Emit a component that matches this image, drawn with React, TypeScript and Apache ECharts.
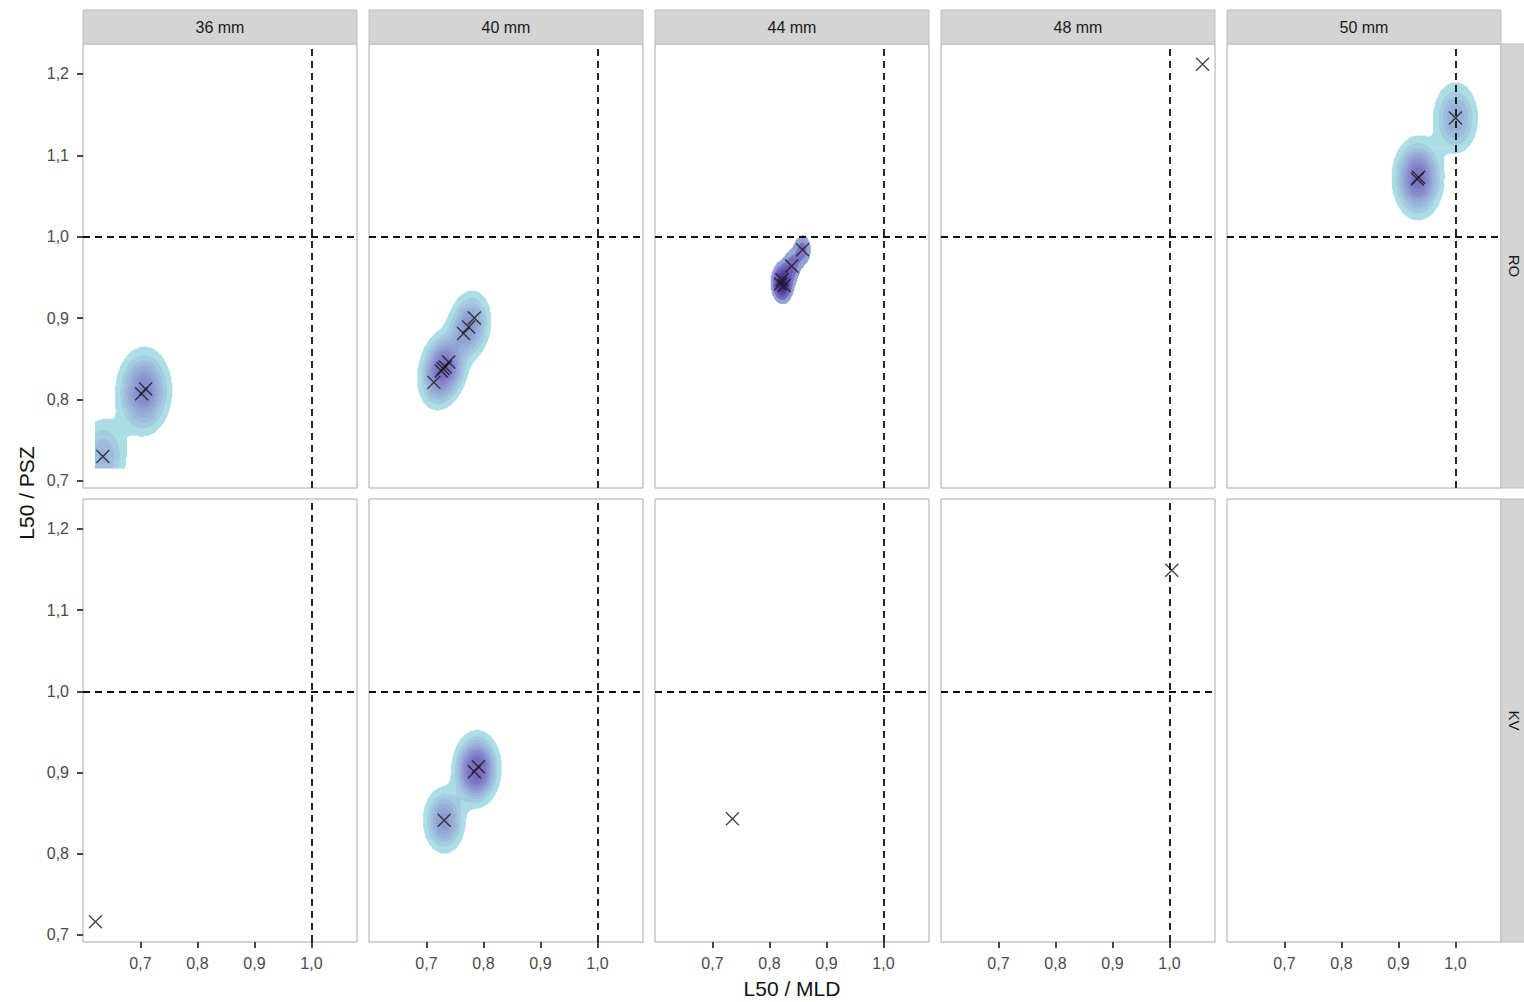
import React, { useEffect, useRef } from "react";
import * as echarts from "echarts";

// ---- facets ----
const columns = ["36 mm", "40 mm", "44 mm", "48 mm", "50 mm"];
const rowsLab = ["RO", "KV"];

// ---- ticks ----
const xTicks = [0.7, 0.8, 0.9, 1.0];
const yTicks = [0.7, 0.8, 0.9, 1.0, 1.1, 1.2];
const refX = 1.0;
const refY = 1.0;

// ---- data: L50 / MLD (x) and L50 / PSZ (y) per panel ----
const ro36X = [0.634, 0.702, 0.709];
const ro36Y = [0.730, 0.807, 0.813];
const ro40X = [0.713, 0.726, 0.729, 0.733, 0.739, 0.765, 0.774, 0.784];
const ro40Y = [0.821, 0.835, 0.838, 0.840, 0.846, 0.881, 0.889, 0.900];
const ro44X = [0.819, 0.822, 0.826, 0.839, 0.858];
const ro44Y = [0.942, 0.947, 0.940, 0.964, 0.984];
const ro48X = [1.058];
const ro48Y = [1.212];
const ro50X = [0.933, 0.935, 1.0];
const ro50Y = [1.071, 1.073, 1.146];
const kv36X = [0.621];
const kv36Y = [0.716];
const kv40X = [0.731, 0.784, 0.791];
const kv40Y = [0.841, 0.901, 0.907];
const kv44X = [0.735];
const kv44Y = [0.843];
const kv48X = [1.004];
const kv48Y = [1.149];
const kv50X: number[] = [];
const kv50Y: number[] = [];

const panelX = [
  [ro36X, ro40X, ro44X, ro48X, ro50X],
  [kv36X, kv40X, kv44X, kv48X, kv50X],
];
const panelY = [
  [ro36Y, ro40Y, ro44Y, ro48Y, ro50Y],
  [kv36Y, kv40Y, kv44Y, kv48Y, kv50Y],
];

// ---- layout ----
const GRID_LEFT = [83, 369, 655, 941, 1227];
const GRID_TOP = [44, 499];
const GRID_W = 274;
const GRID_H = [444, 443];
const FONT = "'Liberation Sans', Arial, sans-serif";

// ---- density helpers (MASS::kde2d with bandwidth.nrd, as ggplot does) ----
function quantile7(s: number[], p: number) {
  const h = (s.length - 1) * p;
  const lo = Math.floor(h);
  const hi = Math.min(lo + 1, s.length - 1);
  return s[lo] + (h - lo) * (s[hi] - s[lo]);
}
function bwNrd(v: number[]) {
  const s = [...v].sort((a, b) => a - b);
  const n = v.length;
  const mean = v.reduce((a, b) => a + b, 0) / n;
  const sd = Math.sqrt(v.reduce((a, b) => a + (b - mean) ** 2, 0) / (n - 1));
  const iqr = (quantile7(s, 0.75) - quantile7(s, 0.25)) / 1.34;
  return 4 * 1.06 * Math.min(sd, iqr) * Math.pow(n, -0.2);
}
function prettyUnit(max: number, n = 10) {
  const cell = max / n;
  const base = Math.pow(10, Math.floor(Math.log10(cell)));
  const h = 1.5;
  const h5 = 0.5 + 1.5 * h;
  let unit = base;
  if (2 * base - cell < h * (cell - unit)) {
    unit = 2 * base;
    if (5 * base - cell < h5 * (cell - unit)) {
      unit = 5 * base;
      if (10 * base - cell < h * (cell - unit)) unit = 10 * base;
    }
  }
  return unit;
}

const RAMP = [
  [0, [171, 221, 229]],
  [0.3, [124, 114, 197]],
  [1, [50, 18, 125]],
] as [number, number[]][];

export default function App() {
  const ref = useRef<HTMLDivElement>(null);
  useEffect(() => {
    document.body.style.margin = "0";
    if (!ref.current) return;
    const chart = echarts.init(ref.current, undefined, { renderer: "svg" });

    const allX = panelX.flat(2);
    const allY = panelY.flat(2);
    const dxMin = Math.min(...allX), dxMax = Math.max(...allX);
    const dyMin = Math.min(...allY), dyMax = Math.max(...allY);
    const xr = dxMax - dxMin, yr = dyMax - dyMin;
    const xMin = dxMin - 0.05 * xr, xMax = dxMax + 0.05 * xr;
    const yMin = dyMin - 0.05 * yr, yMax = dyMax + 0.05 * yr;

    const NX = 260, NY = 420;
    const gx = Array.from({ length: NX }, (_, i) => dxMin + (i * xr) / (NX - 1));
    const gy = Array.from({ length: NY }, (_, j) => dyMin + (j * yr) / (NY - 1));
    const cdx = xr / (NX - 1), cdy = yr / (NY - 1);

    const runsAll: number[][][] = [];
    let minLevel = Infinity, maxLevel = 0;
    for (let r = 0; r < 2; r++) {
      for (let c = 0; c < 5; c++) {
        const X = panelX[r][c], Y = panelY[r][c];
        const runs: number[][] = [];
        if (X.length >= 2) {
          const sx = bwNrd(X) / 4, sy = bwNrd(Y) / 4;
          const n = X.length;
          const ax = X.map((x) => gx.map((g) => Math.exp(-0.5 * ((g - x) / sx) ** 2)));
          const ay = Y.map((y) => gy.map((g) => Math.exp(-0.5 * ((g - y) / sy) ** 2)));
          const norm = 1 / (n * 2 * Math.PI * sx * sy);
          const z: number[][] = [];
          let zmax = 0;
          for (let j = 0; j < NY; j++) {
            const row: number[] = new Array(NX).fill(0);
            for (let k = 0; k < n; k++) {
              const ayk = ay[k][j];
              if (ayk < 1e-9) continue;
              const axk = ax[k];
              for (let i = 0; i < NX; i++) row[i] += axk[i] * ayk;
            }
            for (let i = 0; i < NX; i++) {
              row[i] *= norm;
              if (row[i] > zmax) zmax = row[i];
            }
            z.push(row);
          }
          const unit = prettyUnit(zmax);
          for (let j = 0; j < NY; j++) {
            let start = -1, cur = 0;
            for (let i = 0; i <= NX; i++) {
              const L = i < NX ? Math.floor(z[j][i] / unit) : 0;
              if (L !== cur) {
                if (cur >= 1) {
                  const lv = cur * unit;
                  runs.push([gx[start] - cdx / 2, gx[i - 1] + cdx / 2, gy[j], lv]);
                  if (lv < minLevel) minLevel = lv;
                  if (lv > maxLevel) maxLevel = lv;
                }
                cur = L;
                start = i;
              }
            }
          }
        }
        runsAll.push(runs);
      }
    }

    const colorOf = (lv: number) => {
      let t = (lv - minLevel) / (maxLevel - minLevel);
      t = Math.pow(Math.max(0, Math.min(1, t)), 0.85);
      let k = 0;
      while (k < RAMP.length - 2 && t > RAMP[k + 1][0]) k++;
      const [t0, c0] = RAMP[k];
      const [t1, c1] = RAMP[k + 1];
      const u = (t - t0) / (t1 - t0);
      const c = c0.map((v, m) => Math.round(v + (c1[m] - v) * u));
      return `rgb(${c[0]},${c[1]},${c[2]})`;
    };

    const grids: any[] = [];
    const xAxes: any[] = [];
    const yAxes: any[] = [];
    const series: any[] = [];
    const fmt = (v: number) => v.toFixed(1).replace(".", ",");
    const symbolX = "path://M0,0L10,10M10,0L0,10";

    for (let r = 0; r < 2; r++) {
      for (let c = 0; c < 5; c++) {
        const idx = r * 5 + c;
        grids.push({
          left: GRID_LEFT[c],
          top: GRID_TOP[r],
          width: GRID_W,
          height: GRID_H[r],
          show: true,
          backgroundColor: "#ffffff",
          borderColor: "#a8a8a8",
          borderWidth: 1,
        });
        const showX = r === 1;
        const showY = c === 0;
        xAxes.push({
          gridIndex: idx,
          type: "value",
          min: xMin,
          max: xMax,
          axisLine: { show: false },
          splitLine: { show: false },
          axisTick: {
            show: showX,
            customValues: xTicks,
            length: 6,
            lineStyle: { color: "#333", width: 1.8 },
          },
          axisLabel: {
            show: showX,
            customValues: xTicks,
            formatter: fmt,
            color: "#4a4a4a",
            fontSize: 16,
            fontFamily: FONT,
            margin: 13,
          },
        });
        yAxes.push({
          gridIndex: idx,
          type: "value",
          min: yMin,
          max: yMax,
          axisLine: { show: false },
          splitLine: { show: false },
          axisTick: {
            show: showY,
            customValues: yTicks,
            length: 6,
            lineStyle: { color: "#333", width: 1.8 },
          },
          axisLabel: {
            show: showY,
            customValues: yTicks,
            formatter: fmt,
            color: "#4a4a4a",
            fontSize: 16,
            fontFamily: FONT,
            margin: 14,
          },
        });
        const runs = runsAll[idx];
        if (runs.length) {
          series.push({
            type: "custom",
            xAxisIndex: idx,
            yAxisIndex: idx,
            z: 1,
            clip: true,
            silent: true,
            progressive: 0,
            encode: { x: [0, 1], y: 2 },
            data: runs,
            renderItem: (params: any, api: any) => {
              const p0 = api.coord([api.value(0), api.value(2)]);
              const p1 = api.coord([api.value(1), api.value(2)]);
              const h = Math.abs(api.size([0, cdy])[1]);
              return {
                type: "rect",
                shape: { x: p0[0], y: p0[1] - h / 2 - 0.3, width: p1[0] - p0[0] + 0.3, height: h + 0.6 },
                style: { fill: colorOf(api.value(3)) },
              };
            },
          });
        }
        const X = panelX[r][c], Y = panelY[r][c];
        const sc: any = {
          type: "scatter",
          xAxisIndex: idx,
          yAxisIndex: idx,
          z: 3,
          symbol: symbolX,
          symbolSize: 13,
          itemStyle: { color: "none", borderColor: "#1a1a1a", borderWidth: 1.4 },
          data: X.map((x, k) => [x, Y[k]]),
        };
        if (X.length) {
          sc.markLine = {
            silent: true,
            symbol: ["none", "none"],
            label: { show: false },
            lineStyle: { color: "#111", type: [7, 5], width: 1.8 },
            data: [{ xAxis: refX }, { yAxis: refY }],
          };
        }
        series.push(sc);
      }
    }

    const graphic: any[] = [];
    columns.forEach((lab, c) => {
      graphic.push({
        type: "rect",
        shape: { x: GRID_LEFT[c], y: 10, width: GRID_W, height: 34 },
        style: { fill: "#d4d4d4", stroke: "#bdbdbd", lineWidth: 1 },
      });
      graphic.push({
        type: "text",
        x: GRID_LEFT[c] + GRID_W / 2,
        y: 27,
        style: { text: lab, fill: "#1a1a1a", font: `16px ${FONT}`, align: "center", verticalAlign: "middle" },
      });
    });
    rowsLab.forEach((lab, r) => {
      graphic.push({
        type: "rect",
        shape: { x: 1501, y: GRID_TOP[r], width: 40, height: GRID_H[r] },
        style: { fill: "#d4d4d4", stroke: "#bdbdbd", lineWidth: 1 },
      });
      graphic.push({
        type: "text",
        x: 1514,
        y: GRID_TOP[r] + GRID_H[r] / 2,
        rotation: -Math.PI / 2,
        style: { text: lab, fill: "#1a1a1a", font: `15px ${FONT}`, align: "center", verticalAlign: "middle" },
      });
    });
    graphic.push({
      type: "text",
      x: GRID_LEFT[2] + GRID_W / 2,
      y: 988,
      style: { text: "L50 / MLD", fill: "#111", font: `21px ${FONT}`, align: "center", verticalAlign: "middle" },
    });
    graphic.push({
      type: "text",
      x: 26,
      y: 493,
      rotation: Math.PI / 2,
      style: { text: "L50 / PSZ", fill: "#111", font: `21px ${FONT}`, align: "center", verticalAlign: "middle" },
    });

    chart.setOption({
      animation: false,
      backgroundColor: "#ffffff",
      grid: grids,
      xAxis: xAxes,
      yAxis: yAxes,
      series,
      graphic,
    });
    return () => chart.dispose();
  }, []);
  return <div ref={ref} style={{ width: 1524, height: 1002 }} />;
}
